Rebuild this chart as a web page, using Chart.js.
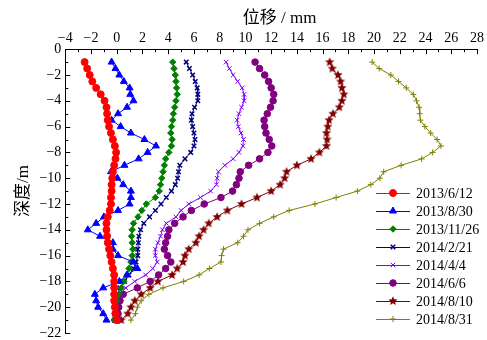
<!DOCTYPE html>
<html>
<head>
<meta charset="utf-8">
<script src="https://cdn.jsdelivr.net/npm/chart.js@4/dist/chart.umd.min.js"></script>
<style>
  body { margin: 0; background: #fff; }
  #wrap { width: 487px; height: 340px; }
</style>
</head>
<body>
<div id="wrap"><canvas id="graph" width="487" height="340"></canvas></div>
<script>
// depth below surface (m), same for every survey
const depths = [1, 1.5, 2, 2.5, 3, 3.5, 4, 4.5, 5, 5.5, 6, 6.5, 7, 7.5, 8, 8.5, 9, 9.5, 10, 10.5,
  11, 11.5, 12, 12.5, 13, 13.5, 14, 14.5, 15, 15.5, 16, 16.5, 17, 17.5, 18, 18.5, 19, 19.5, 20, 20.5, 21];

const dates = ['2013/6/12', '2013/8/30', '2013/11/26', '2014/2/21', '2014/4/4', '2014/6/6', '2014/8/10', '2014/8/31'];

// displacement (mm)
const d20130612 = [-2.5, -2.3, -2.1, -1.9, -1.6, -1.25, -0.95, -0.8, -0.75, -0.7, -0.6, -0.45, -0.3, -0.15, -0.05, -0.1, -0.2, -0.3, -0.35, -0.4,
  -0.4, -0.45, -0.45, -0.55, -0.7, -0.8, -0.8, -0.75, -0.7, -0.6, -0.5, -0.4, -0.3, -0.2, -0.2, -0.2, -0.2, -0.2, -0.15, -0.1, 0.0];
const d20130830 = [-0.4, -0.1, 0.2, 0.55, 1.0, 1.05, 1.3, 0.8, 0.1, -0.4, 0.3, 1.1, 2.15, 3.05, 2.4, 1.7, 0.6, -0.45, 0.05, 0.5,
  1.1, 1.1, 1.0, 0.1, -1.0, -1.6, -2.25, -1.3, -0.3, -0.3, 0.1, 1.3, 1.6, 0.8, 0.2, -1.05, -1.7, -1.6, -1.45, -1.05, -0.8];
const d20131126 = [4.35, 4.45, 4.55, 4.6, 4.65, 4.7, 4.6, 4.5, 4.4, 4.35, 4.25, 4.2, 4.3, 4.25, 4.05, 3.8, 3.7, 3.6, 3.5, 3.4,
  3.3, 3.0, 2.3, 1.95, 1.65, 1.3, 1.2, 1.15, 1.2, 1.25, 1.2, 1.1, 0.95, 0.8, 0.55, 0.35, 0.15, 0.0, -0.1, -0.15, -0.2];
const d20140221 = [5.4, 5.65, 5.9, 6.1, 6.25, 6.3, 6.3, 6.05, 5.85, 5.8, 5.9, 6.0, 6.08, 6.0, 5.75, 5.3, 4.9, 4.8, 4.73, 4.55,
  4.25, 3.85, 3.44, 3.0, 2.55, 2.1, 1.85, 1.72, 1.68, 1.63, 1.63, 1.5, 1.3, 0.95, 0.6, 0.25, 0.1, -0.05, -0.12, -0.18, -0.2];
const d20140404 = [8.5, 8.75, 9.05, 9.4, 9.75, 9.9, 9.9, 9.7, 9.5, 9.35, 9.45, 9.65, 9.85, 9.8, 9.5, 9.05, 8.4, 7.9, 7.8, 7.75,
  7.3, 6.5, 5.6, 5.0, 4.6, 3.85, 3.55, 3.4, 3.2, 3.0, 3.0, 3.15, 2.8, 2.25, 1.4, 0.7, 0.25, 0.0, -0.05, -0.1, -0.1];
const d20140606 = [10.75, 11.1, 11.5, 11.8, 12.0, 12.2, 12.15, 11.95, 11.7, 11.45, 11.5, 11.6, 11.85, 12.05, 11.75, 11.1, 10.25, 9.6, 9.5, 9.3,
  9.0, 8.1, 6.8, 5.8, 5.15, 4.5, 4.05, 3.95, 3.8, 3.7, 3.95, 4.2, 3.8, 3.25, 2.6, 1.6, 0.5, 0.25, 0.15, 0.1, 0.1];
const d20140810 = [16.55, 16.75, 17.2, 17.4, 17.5, 17.65, 17.5, 17.3, 16.8, 16.5, 16.4, 16.3, 16.35, 16.3, 15.75, 15.1, 14.0, 13.2, 13.05, 12.7,
  12.0, 10.9, 9.7, 8.6, 7.8, 7.15, 6.75, 6.4, 6.15, 5.6, 5.3, 5.15, 4.7, 4.3, 3.2, 2.6, 1.9, 1.4, 1.1, 0.85, 0.35];
const d20140831 = [19.85, 20.4, 21.3, 21.9, 22.5, 23.05, 23.3, 23.5, 23.55, 23.6, 23.95, 24.4, 24.9, 25.2, 24.55, 23.7, 22.1, 20.75, 20.45, 19.75,
  18.7, 17.05, 15.4, 13.4, 12.2, 11.1, 10.2, 9.85, 9.4, 8.3, 8.15, 8.1, 7.2, 6.4, 5.2, 3.6, 2.5, 1.9, 1.6, 1.45, 1.1];

const xTicksMin = -4, xTicksMax = 28, yTicksMin = -22, yTicksMax = 0;

const serif = '"Liberation Serif", "Times New Roman", "Noto Sans CJK SC", serif';

// filled star marker for 2014/8/10
function starMarker(color, r){
  const c = document.createElement('canvas');
  const s = Math.ceil(r * 2 + 2);
  c.width = s; c.height = s;
  const g = c.getContext('2d');
  g.fillStyle = color;
  g.beginPath();
  for (let i = 0; i < 10; i++) {
    const rr = i % 2 === 0 ? r : r * 0.45;
    const a = -Math.PI / 2 + i * Math.PI / 5;
    const px = s / 2 + rr * Math.cos(a), py = s / 2 + rr * Math.sin(a);
    if (i === 0) g.moveTo(px, py); else g.lineTo(px, py);
  }
  g.closePath();
  g.fill();
  return c;
}

function pts(vals){
  return vals.map((v, i) => ({x: v, y: -depths[i]}));
}

const series = [
  {data: d20130612, color: '#ff0000', style: 'circle', r: 3.5, bw: 1},
  {data: d20130830, color: '#0000ff', style: 'triangle', r: 4, bw: 1},
  {data: d20131126, color: '#008000', style: 'rectRot', r: 3.2, bw: 1},
  {data: d20140221, color: '#000080', style: 'crossRot', r: 3.2, bw: 1.5},
  {data: d20140404, color: '#8000ff', style: 'crossRot', r: 3.2, bw: 1},
  {data: d20140606, color: '#800080', style: 'circle', r: 3.3, bw: 1},
  {data: d20140810, color: '#800000', style: starMarker('#800000', 4.8), r: 4.8, bw: 1},
  {data: d20140831, color: '#808000', style: 'cross', r: 3, bw: 1}
];

const innerTicks = {
  id: 'innerTicks',
  afterDraw(chart){
    const ctx = chart.ctx, xs = chart.scales.x, ys = chart.scales.y, a = chart.chartArea;
    ctx.save();
    ctx.strokeStyle = '#000';
    ctx.lineWidth = 1;
    ctx.beginPath();
    for (let v = xTicksMin; v <= xTicksMax; v++) {
      const px = Math.round(xs.getPixelForValue(v)) + 0.5;
      const len = v % 2 === 0 ? 5 : 3;
      ctx.moveTo(px, a.top); ctx.lineTo(px, a.top + len);
    }
    for (let v = yTicksMin; v <= yTicksMax; v++) {
      const py = Math.round(ys.getPixelForValue(v)) + 0.5;
      const len = v % 2 === 0 ? 5 : 3;
      ctx.moveTo(a.left, py); ctx.lineTo(a.left + len, py);
    }
    ctx.stroke();
    ctx.restore();
  }
};

const boxLegend = {
  id: 'boxLegend',
  afterDraw(chart){
    const ctx = chart.ctx;
    ctx.save();
    ctx.font = '14px ' + serif;
    ctx.textBaseline = 'middle';
    chart.data.datasets.forEach((ds, i) => {
      const y = 193 + i * 18;
      ctx.strokeStyle = ds.borderColor;
      ctx.lineWidth = 1;
      ctx.beginPath(); ctx.moveTo(376, y + 0.5); ctx.lineTo(410, y + 0.5); ctx.stroke();
      ctx.fillStyle = ds.pointBackgroundColor;
      ctx.strokeStyle = ds.pointBorderColor;
      ctx.lineWidth = ds.pointBorderWidth;
      Chart.helpers.drawPoint(ctx, {pointStyle: ds.pointStyle, radius: ds.pointRadius, borderWidth: ds.pointBorderWidth, rotation: 0}, 393, y);
      ctx.fillStyle = '#000';
      ctx.fillText(ds.label, 416, y + 1);
    });
    ctx.restore();
  }
};

const minus = v => String(v).replace('-', '\u2212');

new Chart(document.getElementById('graph').getContext('2d'), {
  type: 'scatter',
  data: {
    datasets: series.map((s, i) => ({
      label: dates[i],
      data: pts(s.data),
      showLine: true,
      borderColor: s.color,
      backgroundColor: s.color,
      borderWidth: 1,
      pointStyle: s.style,
      pointRadius: s.r,
      pointBackgroundColor: s.color,
      pointBorderColor: s.color,
      pointBorderWidth: s.bw,
      tension: 0
    }))
  },
  options: {
    responsive: false,
    animation: false,
    layout: {padding: {top: 8, left: 13, right: 10, bottom: 7}},
    plugins: {legend: {display: false}, tooltip: {enabled: false}},
    scales: {
      x: {
        type: 'linear',
        position: 'top',
        min: xTicksMin, max: xTicksMax,
        ticks: {stepSize: 2, color: '#000', font: {family: serif, size: 14}, padding: 2, callback: minus, maxRotation: 0},
        grid: {display: false, drawTicks: false},
        border: {display: true, color: '#000', width: 1},
        title: {display: true, text: '    位移 / mm', color: '#000', font: {family: serif, size: 17}, padding: {top: 0, bottom: 0}}
      },
      y: {
        type: 'linear',
        min: yTicksMin, max: yTicksMax,
        afterFit(scale){ scale.paddingTop = 0; scale.paddingBottom = 0; },
        ticks: {stepSize: 2, color: '#000', font: {family: serif, size: 14}, padding: 4, callback: minus},
        grid: {display: false, drawTicks: false},
        border: {display: true, color: '#000', width: 1},
        title: {display: true, text: '深度/m', color: '#000', font: {family: serif, size: 17}, padding: {top: 0, bottom: 2}}
      }
    }
  },
  plugins: [innerTicks, boxLegend]
});
</script>
</body>
</html>
